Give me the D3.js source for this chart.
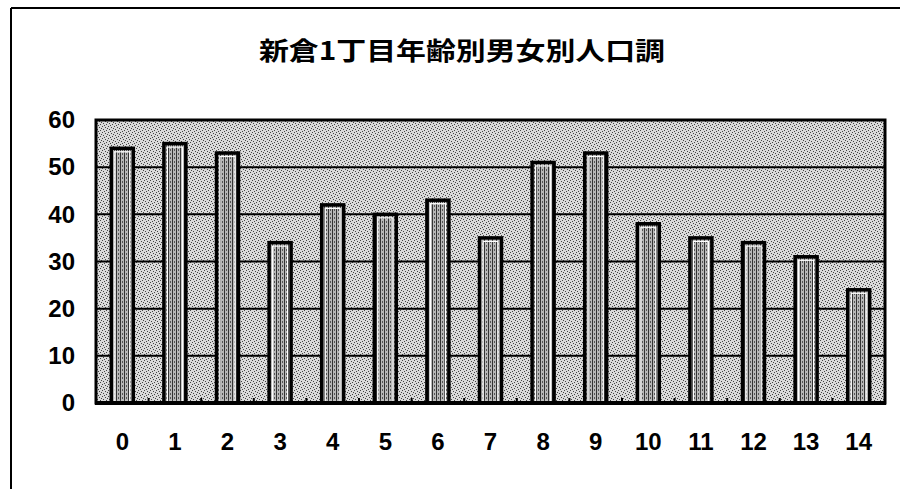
<!DOCTYPE html>
<html>
<head>
<meta charset="utf-8">
<script src="https://cdn.jsdelivr.net/npm/d3@7/dist/d3.min.js"></script>
<style>
  html, body { margin: 0; padding: 0; background: #fff; }
  svg { display: block; }
</style>
</head>
<body>
<svg id="chart" width="913" height="489"></svg>
<script>
// ---- data ----
const title = "新倉1丁目年齢別男女別人口調";
const categories = ["0","1","2","3","4","5","6","7","8","9","10","11","12","13","14"];
const values = [54, 55, 53, 34, 42, 40, 43, 35, 51, 53, 38, 35, 34, 31, 24];
const yTicks = [0, 10, 20, 30, 40, 50, 60];

// ---- layout ----
const W = 913, H = 489;
const plot = { left: 96, right: 885, top: 120, bottom: 403 };

const svg = d3.select("#chart");
const defs = svg.append("defs");

// stipple texture for the plot wall
const bg = defs.append("pattern").attr("id", "stipple")
  .attr("width", 6).attr("height", 6).attr("patternUnits", "userSpaceOnUse");
bg.append("rect").attr("width", 6).attr("height", 6).attr("fill", "#dadada");
[[0,0],[3,1],[1,3],[4,4],[5,2],[2,5]].forEach(([x,y]) =>
  bg.append("rect").attr("x", x).attr("y", y).attr("width", 1).attr("height", 1).attr("fill", "#444"));

// hatch texture for bars
const bp = defs.append("pattern").attr("id", "hatch")
  .attr("width", 4).attr("height", 4).attr("patternUnits", "userSpaceOnUse");
bp.append("rect").attr("width", 4).attr("height", 4).attr("fill", "#b8b8b8");
bp.append("rect").attr("x", 0).attr("y", 0).attr("width", 1).attr("height", 4).attr("fill", "#333");
bp.append("rect").attr("x", 2).attr("y", 1).attr("width", 1).attr("height", 2).attr("fill", "#555");

// outer frame (top and left visible)
svg.append("line").attr("x1", 11).attr("x2", 900).attr("y1", 8).attr("y2", 8)
  .attr("stroke", "#000").attr("stroke-width", 2);
svg.append("line").attr("x1", 11).attr("x2", 11).attr("y1", 8).attr("y2", H)
  .attr("stroke", "#000").attr("stroke-width", 2);

// title
svg.append("text")
  .attr("x", 462).attr("y", 49)
  .attr("text-anchor", "middle").attr("dominant-baseline", "central")
  .attr("textLength", 406).attr("lengthAdjust", "spacingAndGlyphs")
  .style("font-family", "'Noto Sans CJK JP', sans-serif")
  .style("font-weight", "bold").style("font-size", "25px")
  .text(title);

// scales
const x = d3.scaleBand().domain(categories).range([plot.left, plot.right]).paddingInner(0).paddingOuter(0);
const y = d3.scaleLinear().domain([0, 60]).range([plot.bottom, plot.top]);

// plot background
svg.append("rect")
  .attr("x", plot.left).attr("y", plot.top)
  .attr("width", plot.right - plot.left).attr("height", plot.bottom - plot.top)
  .attr("fill", "url(#stipple)");

// gridlines
svg.append("g").selectAll("line").data(yTicks.filter(t => t > 0 && t < 60)).join("line")
  .attr("x1", plot.left).attr("x2", plot.right)
  .attr("y1", d => y(d)).attr("y2", d => y(d))
  .attr("stroke", "#000").attr("stroke-width", 2);

// inward ticks at category boundaries
svg.append("g").selectAll("line").data(categories.slice(1)).join("line")
  .attr("x1", d => x(d)).attr("x2", d => x(d))
  .attr("y1", plot.bottom).attr("y2", plot.bottom - 5)
  .attr("stroke", "#000").attr("stroke-width", 2);

// plot border
svg.append("rect")
  .attr("x", plot.left).attr("y", plot.top)
  .attr("width", plot.right - plot.left).attr("height", plot.bottom - plot.top)
  .attr("fill", "none").attr("stroke", "#000").attr("stroke-width", 3);

// bars
const bw = 22;
const bars = svg.append("g").selectAll("g").data(values).join("g");
bars.append("rect")
  .attr("x", (d, i) => x(categories[i]) + x.bandwidth() / 2 - bw / 2)
  .attr("y", d => y(d))
  .attr("width", bw).attr("height", d => y(0) - y(d))
  .attr("fill", "url(#hatch)").attr("stroke", "#000").attr("stroke-width", 3.5);
bars.append("rect")
  .attr("x", (d, i) => x(categories[i]) + x.bandwidth() / 2 - bw / 2 + 3.5)
  .attr("y", d => y(d) + 3.5)
  .attr("width", bw - 7).attr("height", d => y(0) - y(d) - 5)
  .attr("fill", "none").attr("stroke", "#fff").attr("stroke-width", 1.2);

// bottom axis line (thick)
svg.append("line").attr("x1", plot.left - 1).attr("x2", plot.right + 1)
  .attr("y1", plot.bottom).attr("y2", plot.bottom)
  .attr("stroke", "#000").attr("stroke-width", 4);

// y axis labels
const yAxis = d3.axisLeft(y).tickValues(yTicks).tickSize(0).tickPadding(21);
const gy = svg.append("g").attr("transform", `translate(${plot.left},0)`).call(yAxis);
gy.select(".domain").remove();
gy.selectAll("text")
  .style("font-family", "'Liberation Sans', Arial, sans-serif")
  .style("font-weight", "bold").style("font-size", "24px").attr("fill", "#000");

// x axis labels
const xAxis = d3.axisBottom(x).tickSize(0).tickPadding(30);
const gx = svg.append("g").attr("transform", `translate(0,${plot.bottom})`).call(xAxis);
gx.select(".domain").remove();
gx.selectAll("text")
  .style("font-family", "'Liberation Sans', Arial, sans-serif")
  .style("font-weight", "bold").style("font-size", "24px").attr("fill", "#000");
</script>
</body>
</html>
